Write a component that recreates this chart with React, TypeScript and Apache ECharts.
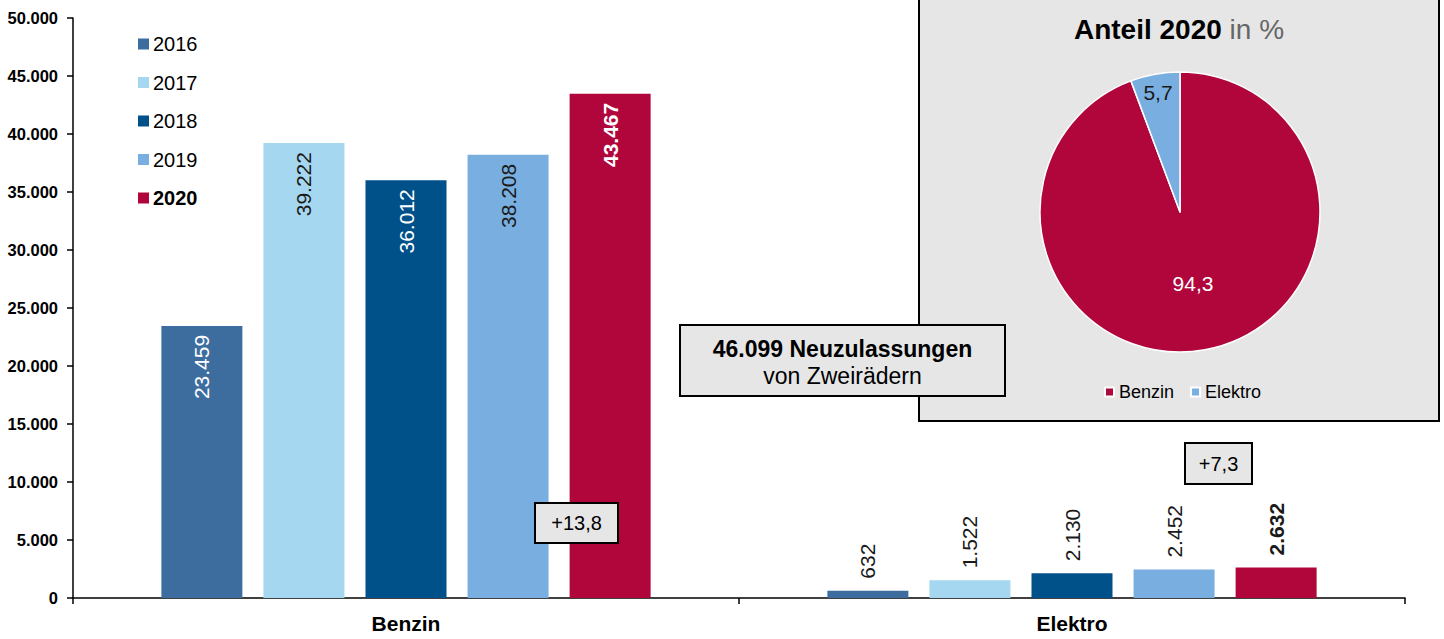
import React, { useEffect, useRef } from "react";
import * as echarts from "echarts";

const categories = ["Benzin", "Elektro"];
const years = ["2016", "2017", "2018", "2019", "2020"];
const benzin = [23459, 39222, 36012, 38208, 43467];
const elektro = [632, 1522, 2130, 2452, 2632];
const yearColors = ["#3D6D9E", "#A6D7F0", "#00508A", "#79AFE0", "#B0063C"];
const benzinLabelColors = ["#ffffff", "#1a1a1a", "#ffffff", "#1a1a1a", "#ffffff"];
const shareNames = ["Benzin", "Elektro"];
const shareValues = [94.3, 5.7];
const shareColors = ["#B0063C", "#79AFE0"];
const changeBenzin = "+13,8";
const changeElektro = "+7,3";

const FONT = "'Liberation Sans', Arial, sans-serif";
const fmt = (n: number) => String(n).replace(/\B(?=(\d{3})+(?!\d))/g, ".");

export default function App() {
  const ref = useRef<HTMLDivElement>(null);
  useEffect(() => {
    if (!ref.current) return;
    const chart = echarts.init(ref.current, null, { renderer: "svg" });
    const total = benzin[benzin.length - 1] + elektro[elektro.length - 1];

    const barSeries = years.map((y, i) => ({
      name: y,
      type: "bar",
      barWidth: 81,
      barGap: "26%",
      z: 2,
      itemStyle: { color: yearColors[i] },
      label: {
        show: true,
        fontSize: 21,
        fontFamily: FONT,
        formatter: (p: any) => fmt(p.value),
      },
      data: [
        {
          value: benzin[i],
          label: {
            show: true,
            position: "insideTop",
            rotate: 90,
            align: "right",
            verticalAlign: "middle",
            distance: 9,
            color: benzinLabelColors[i],
            fontWeight: i === 4 ? "bold" : "normal",
          },
        },
        {
          value: elektro[i],
          label: {
            show: true,
            position: "top",
            rotate: 90,
            align: "left",
            verticalAlign: "middle",
            distance: 12,
            color: "#1a1a1a",
            fontWeight: i === 4 ? "bold" : "normal",
          },
        },
      ],
    }));

    const pieSeries = {
      type: "pie",
      center: [1180, 212],
      radius: 140,
      startAngle: 90,
      clockwise: true,
      z: 3,
      emphasis: { disabled: true },
      itemStyle: { borderColor: "#ffffff", borderWidth: 1.5 },
      label: {
        show: true,
        position: "inside",
        fontSize: 21,
        fontFamily: FONT,
        formatter: (p: any) => String(p.value).replace(".", ","),
      },
      labelLine: { show: false },
      data: shareNames.map((n, i) => ({
        name: n,
        value: shareValues[i],
        itemStyle: { color: shareColors[i] },
        label: i === 0 ? { color: "#ffffff" } : { color: "#1a1a1a", offset: [-9, -48] },
      })),
    };

    const boxStyle = { fill: "#E6E6E6", stroke: "#000000", lineWidth: 2 };
    const centered = { align: "center", verticalAlign: "middle", textAlign: "center", textVerticalAlign: "middle" };

    chart.setOption({
      animation: false,
      textStyle: { fontFamily: FONT },
      grid: { left: 73, right: 39, top: 18, bottom: 41, outerBoundsMode: "none", containLabel: false },
      xAxis: {
        type: "category",
        data: categories,
        axisLine: { show: true, lineStyle: { color: "#000", width: 1.5 } },
        axisTick: { show: true, length: 6, lineStyle: { color: "#000", width: 1.5 } },
        axisLabel: { fontSize: 21, fontWeight: "bold", color: "#000", margin: 15, fontFamily: FONT },
      },
      yAxis: {
        type: "value",
        min: 0,
        max: 50000,
        interval: 5000,
        splitLine: { show: false },
        axisLine: { show: true, lineStyle: { color: "#000", width: 1.5 } },
        axisTick: { show: true, length: 6, lineStyle: { color: "#000", width: 1.5 } },
        axisLabel: {
          fontSize: 16.5,
          fontWeight: "bold",
          color: "#000",
          margin: 15,
          fontFamily: FONT,
          formatter: (v: number) => fmt(v),
        },
      },
      legend: [
        {
          orient: "vertical",
          left: 138,
          top: 34,
          padding: 0,
          itemGap: 18.5,
          itemWidth: 11,
          itemHeight: 11,
          icon: "rect",
          textStyle: { fontSize: 20, color: "#000", lineHeight: 20, fontFamily: FONT, padding: [0, 0, 0, -1] },
          data: years.map((y, i) =>
            i === 4 ? { name: y, textStyle: { fontWeight: "bold" } } : { name: y }
          ),
        },
        {
          orient: "horizontal",
          left: 1104,
          top: 383,
          padding: 0,
          itemGap: 16,
          itemWidth: 9,
          itemHeight: 9,
          icon: "rect",
          textStyle: { fontSize: 18, color: "#000", fontFamily: FONT },
          data: shareNames,
        },
      ],
      graphic: [
        { type: "rect", z: 1, shape: { x: 919, y: -5, width: 520, height: 426 }, style: boxStyle },
        {
          type: "text",
          z: 5,
          x: 1179,
          y: 29,
          style: {
            text: "{a|Anteil 2020 }{b|in %}",
            ...centered,
            rich: {
              a: { fontSize: 28, fontWeight: "bold", fill: "#000", fontFamily: FONT },
              b: { fontSize: 28, fill: "#666666", fontFamily: FONT },
            },
          },
        },
        { type: "rect", z: 10, shape: { x: 680, y: 325, width: 325, height: 71 }, style: boxStyle },
        {
          type: "text",
          z: 11,
          x: 842.5,
          y: 349,
          style: { text: fmt(total) + " Neuzulassungen", font: `bold 23px ${FONT}`, fill: "#000", ...centered },
        },
        {
          type: "text",
          z: 11,
          x: 842.5,
          y: 376,
          style: { text: "von Zweirädern", font: `23px ${FONT}`, fill: "#000", ...centered },
        },
        { type: "rect", z: 10, shape: { x: 535, y: 503, width: 83, height: 40 }, style: boxStyle },
        {
          type: "text",
          z: 11,
          x: 576.5,
          y: 523,
          style: { text: changeBenzin, font: `20px ${FONT}`, fill: "#000", ...centered },
        },
        { type: "rect", z: 10, shape: { x: 1185, y: 443, width: 67, height: 41 }, style: boxStyle },
        {
          type: "text",
          z: 11,
          x: 1218.5,
          y: 463.5,
          style: { text: changeElektro, font: `20px ${FONT}`, fill: "#000", ...centered },
        },
      ],
      series: [...barSeries, pieSeries],
    });
    return () => chart.dispose();
  }, []);

  return (
    <div
      ref={ref}
      style={{ position: "fixed", left: 0, top: 0, width: 1444, height: 639, background: "#ffffff" }}
    />
  );
}
